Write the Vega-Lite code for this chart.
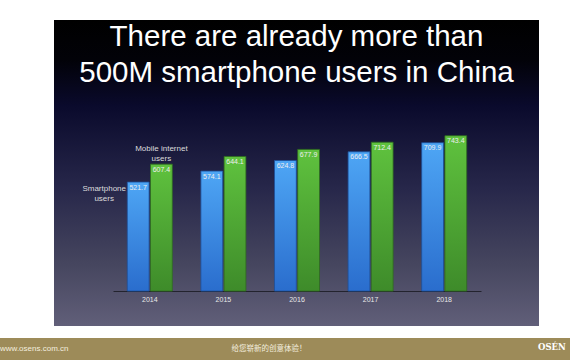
{
  "$schema": "https://vega.github.io/schema/vega-lite/v6.json",
  "padding": {"left": 0, "top": 20, "right": 0, "bottom": 0},
  "background": "#ffffff",
  "spacing": 12,
  "config": {"view": {"stroke": null}, "font": "Liberation Sans"},
  "vconcat": [
    {
      "spacing": 0,
      "hconcat": [
        {
          "width": 54,
          "height": 306,
          "data": {"values": [{"blank": ""}]},
          "mark": {"type": "text", "opacity": 0},
          "encoding": {"text": {"field": "blank"}}
        },
        {
          "width": 485,
          "height": 306,
          "view": {
            "stroke": null,
            "fill": {
              "gradient": "linear", "x1": 0, "y1": 0, "x2": 0, "y2": 1,
              "stops": [
                {"offset": 0, "color": "#000000"},
                {"offset": 0.13, "color": "#020208"},
                {"offset": 0.28, "color": "#0a0a2c"},
                {"offset": 0.55, "color": "#27274a"},
                {"offset": 0.8, "color": "#46465f"},
                {"offset": 1, "color": "#615f79"}
              ]
            }
          },
          "title": {
            "text": ["There are already more than", "500M smartphone users in China"],
            "color": "#ffffff",
            "font": "Liberation Sans",
            "fontSize": 29.5,
            "fontWeight": "normal",
            "lineHeight": 36,
            "anchor": "middle",
            "baseline": "top",
            "offset": -68
          },
          "data": {
            "values": [
              {"year": "2014", "series": "Smartphone users", "value": 521.7},
              {"year": "2014", "series": "Mobile internet users", "value": 607.4},
              {"year": "2015", "series": "Smartphone users", "value": 574.1},
              {"year": "2015", "series": "Mobile internet users", "value": 644.1},
              {"year": "2016", "series": "Smartphone users", "value": 624.8},
              {"year": "2016", "series": "Mobile internet users", "value": 677.9},
              {"year": "2017", "series": "Smartphone users", "value": 666.5},
              {"year": "2017", "series": "Mobile internet users", "value": 712.4},
              {"year": "2018", "series": "Smartphone users", "value": 709.9},
              {"year": "2018", "series": "Mobile internet users", "value": 743.4}
            ]
          },
          "encoding": {
            "x": {
              "field": "year", "type": "ordinal",
              "scale": {"range": [59, 427], "paddingInner": 0, "paddingOuter": 0},
              "axis": {
                "orient": "bottom", "offset": -35, "title": null, "ticks": false,
                "domainColor": "#23232e", "domainWidth": 1.2,
                "labelColor": "#e8e8e8", "labelFontSize": 7, "labelPadding": 4, "labelAngle": 0
              }
            },
            "xOffset": {
              "field": "series", "type": "nominal",
              "scale": {"domain": ["Smartphone users", "Mobile internet users"], "paddingInner": 0.06, "paddingOuter": 0.616}
            },
            "y": {
              "field": "value", "type": "quantitative",
              "scale": {"domain": [-167, 1297], "nice": false, "zero": false},
              "axis": null
            }
          },
          "layer": [
            {
              "transform": [{"filter": "datum.series === 'Smartphone users'"}],
              "mark": {
                "type": "bar", "stroke": "#1d4f99", "strokeWidth": 0.8,
                "color": {
                  "gradient": "linear", "x1": 0, "y1": 0, "x2": 0, "y2": 1,
                  "stops": [{"offset": 0, "color": "#4ea6f5"}, {"offset": 1, "color": "#2a6dcd"}]
                }
              }
            },
            {
              "transform": [{"filter": "datum.series === 'Mobile internet users'"}],
              "mark": {
                "type": "bar", "stroke": "#2e6b1f", "strokeWidth": 0.8,
                "color": {
                  "gradient": "linear", "x1": 0, "y1": 0, "x2": 0, "y2": 1,
                  "stops": [{"offset": 0, "color": "#5fc23e"}, {"offset": 1, "color": "#3e8b2a"}]
                }
              }
            },
            {
              "mark": {"type": "text", "baseline": "middle", "dy": 5.5, "fontSize": 7, "color": "#eeeeee"},
              "encoding": {"text": {"field": "value", "type": "quantitative", "format": ".1f"}}
            },
            {
              "transform": [{"filter": "datum.year === '2014' && datum.series === 'Mobile internet users'"}],
              "mark": {"type": "text", "text": ["Mobile internet", "users"], "baseline": "middle", "dy": -15, "lineHeight": 10, "fontSize": 8, "color": "#dcdcdc"}
            },
            {
              "transform": [{"filter": "datum.year === '2014' && datum.series === 'Smartphone users'"}],
              "mark": {"type": "text", "text": ["Smartphone", "users"], "baseline": "middle", "dx": -34, "dy": 7, "lineHeight": 10, "fontSize": 8, "color": "#dcdcdc"}
            }
          ]
        }
      ]
    },
    {
      "width": 570,
      "height": 22,
      "view": {"fill": "#9d8b59", "stroke": null},
      "data": {
        "values": [
          {"part": "left", "label": "www.osens.com.cn"},
          {"part": "center", "label": "给您崭新的创意体验！"},
          {"part": "right", "label": "OSÉN"}
        ]
      },
      "encoding": {
        "x": {"field": "part", "type": "nominal", "scale": {"type": "point", "domain": ["left", "center", "right"], "range": [0, 538], "padding": 0}, "axis": null}
      },
      "layer": [
        {
          "transform": [{"filter": "datum.part === 'left'"}],
          "mark": {"type": "text", "align": "left", "fontSize": 8, "letterSpacing": 1.1, "color": "#f3eedf"},
          "encoding": {"text": {"field": "label"}}
        },
        {
          "transform": [{"filter": "datum.part === 'center'"}],
          "mark": {"type": "text", "align": "center", "font": "Noto Sans CJK SC", "fontSize": 7.5, "letterSpacing": 3, "color": "#f3eedf"},
          "encoding": {"text": {"field": "label"}}
        },
        {
          "transform": [{"filter": "datum.part === 'right'"}],
          "mark": {"type": "text", "align": "left", "font": "DejaVu Serif", "fontWeight": "bold", "fontSize": 8.5, "dy": -2, "color": "#ffffff"},
          "encoding": {"text": {"field": "label"}}
        }
      ]
    }
  ]
}
